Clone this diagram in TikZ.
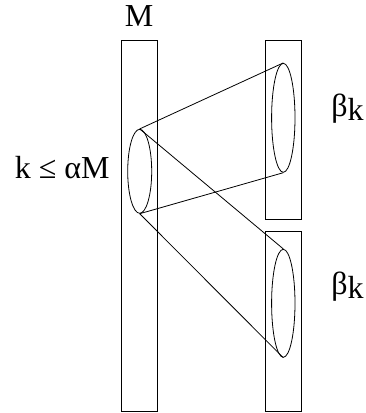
\documentclass[tikz,border=0pt]{standalone}
\usepackage{fontspec}
\setmainfont{Liberation Serif}
\usetikzlibrary{shapes.geometric,positioning}

\tikzset{
  column/.style={draw, rectangle, minimum width=36pt, inner sep=0pt},
  disc/.style={draw, ellipse, inner sep=0pt},
  ray/.style={line width=0.8pt},
  lbl/.style={inner sep=0pt, font=\fontsize{32}{38}\selectfont}
}

\begin{document}
\begin{tikzpicture}[x=1pt, y=-1pt, line width=0.8pt]
    \useasboundingbox (0,0) rectangle (366,413);
    % columns
    \node[column, minimum height=371.5pt] (colM) at (139,225.7) {};
    \node[column, minimum height=179pt]   (colA) at (283,129.5) {};
    \node[column, minimum height=180.5pt] (colB) at (283,321.2) {};
    % discs
    \node[disc, minimum width=24pt, minimum height=84pt]    (src)  at (139.7,171.3) {};
    \node[disc, minimum width=23.4pt, minimum height=109pt] (tgtA) at (283.3,117.8) {};
    \node[disc, minimum width=23.4pt, minimum height=108pt] (tgtB) at (283.3,303.3) {};
    % cones
    \draw[ray] (src.north) -- (tgtA.north);
    \draw[ray] (src.south) -- (tgtA.south);
    \draw[ray] (src.north) -- (tgtB.north);
    \draw[ray] (src.south) -- (tgtB.south);
    % labels
    \node[lbl, anchor=base] (lblM) at (139,26) {M};
    \node[lbl, anchor=base east] (lblK) at (110,178.3) {k ≤ αM};
    \node[lbl, anchor=base west] (lblA) at (331,116)
         {β\raisebox{-4pt}{k}};
    \node[lbl, anchor=base west] (lblB) at (331,294)
         {β\raisebox{-4pt}{k}};
\end{tikzpicture}
\end{document}
